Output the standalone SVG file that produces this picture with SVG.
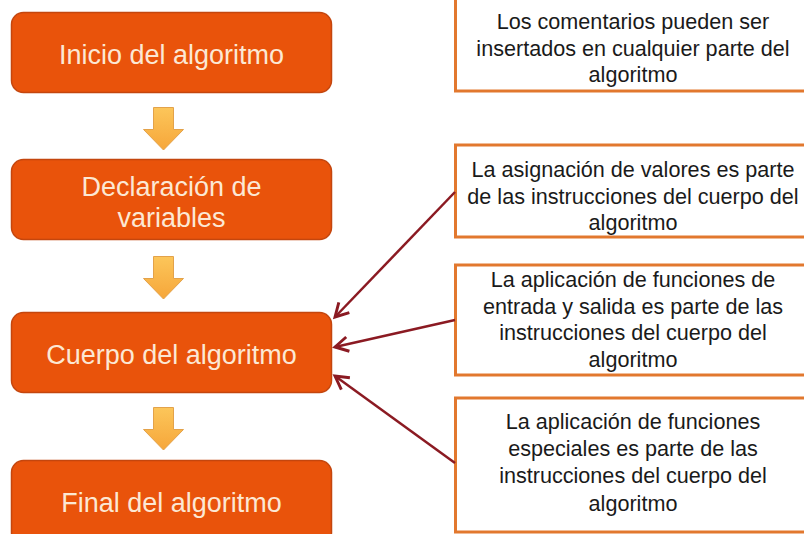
<svg xmlns="http://www.w3.org/2000/svg" width="804" height="534" viewBox="0 0 804 534">
<defs>
<style>
.step{fill:#E9530B;stroke:#C4460E;stroke-width:1.5}
.steptxt{font-family:"Liberation Sans",Arial,sans-serif;font-size:27px;fill:#FCE8D4;text-anchor:middle}
.note{fill:#FFFFFF;stroke:#E2782E;stroke-width:3}
.notetxt{font-family:"Liberation Sans",Arial,sans-serif;font-size:21.6px;fill:#1A1A1A;text-anchor:middle}
.down{fill:url(#ygrad);stroke:#E3A24A;stroke-width:1}
.conn{stroke:#8B1A22;stroke-width:2.5;fill:none;marker-end:url(#ah)}
</style>
<linearGradient id="ygrad" x1="0" y1="0" x2="0" y2="1">
<stop offset="0" stop-color="#FCC65A"/>
<stop offset="1" stop-color="#F6A63A"/>
</linearGradient>
<marker id="ah" viewBox="0 0 12 12" refX="10" refY="6" markerWidth="7" markerHeight="7" orient="auto" markerUnits="strokeWidth">
<path d="M1,1 L10,6 L1,11" fill="none" stroke="#8B1A22" stroke-width="2"/>
</marker>
</defs>

<g id="node-inicio">
<rect class="step" x="11.5" y="12.5" width="320" height="80" rx="12"/>
<text class="steptxt" x="171.5" y="64">Inicio del algoritmo</text>
</g>
<g id="node-declaracion">
<rect class="step" x="11.5" y="159.5" width="320" height="80" rx="12"/>
<text class="steptxt" x="171.5" y="196">Declaración de</text>
<text class="steptxt" x="171.5" y="227">variables</text>
</g>
<g id="node-cuerpo">
<rect class="step" x="11.5" y="312.5" width="320" height="80" rx="12"/>
<text class="steptxt" x="171.5" y="364">Cuerpo del algoritmo</text>
</g>
<g id="node-final">
<rect class="step" x="11.5" y="460.5" width="320" height="84" rx="12"/>
<text class="steptxt" x="171.5" y="512">Final del algoritmo</text>
</g>

<g id="flow-arrows">
<path class="down" d="M153.5,107.5 H173.5 V129.5 H183.5 L163.5,150 L143.5,129.5 H153.5 Z"/>
<path class="down" d="M153.5,256.5 H173.5 V278.5 H183.5 L163.5,299 L143.5,278.5 H153.5 Z"/>
<path class="down" d="M153.5,407.5 H173.5 V429.5 H183.5 L163.5,450 L143.5,429.5 H153.5 Z"/>
</g>

<g id="note-comentarios">
<rect class="note" x="455.5" y="-4" width="360" height="95"/>
<text class="notetxt" x="633" y="29">Los comentarios pueden ser</text>
<text class="notetxt" x="633" y="56">insertados en cualquier parte del</text>
<text class="notetxt" x="633" y="82">algoritmo</text>
</g>
<g id="note-asignacion">
<rect class="note" x="455.5" y="145" width="360" height="92"/>
<text class="notetxt" x="633" y="177">La asignación de valores es parte</text>
<text class="notetxt" x="633" y="204">de las instrucciones del cuerpo del</text>
<text class="notetxt" x="633" y="230">algoritmo</text>
</g>
<g id="note-entrada-salida">
<rect class="note" x="455.5" y="265" width="360" height="110"/>
<text class="notetxt" x="633" y="287">La aplicación de funciones de</text>
<text class="notetxt" x="633" y="314">entrada y salida es parte de las</text>
<text class="notetxt" x="633" y="340">instrucciones del cuerpo del</text>
<text class="notetxt" x="633" y="367">algoritmo</text>
</g>
<g id="note-especiales">
<rect class="note" x="455.5" y="398" width="360" height="134"/>
<text class="notetxt" x="633" y="429">La aplicación de funciones</text>
<text class="notetxt" x="633" y="456">especiales es parte de las</text>
<text class="notetxt" x="633" y="483">instrucciones del cuerpo del</text>
<text class="notetxt" x="633" y="511">algoritmo</text>
</g>

<g id="connectors">
<line class="conn" x1="455" y1="192" x2="335" y2="317"/>
<line class="conn" x1="455" y1="320" x2="335" y2="347"/>
<line class="conn" x1="455" y1="463" x2="335" y2="376"/>
</g>
</svg>
